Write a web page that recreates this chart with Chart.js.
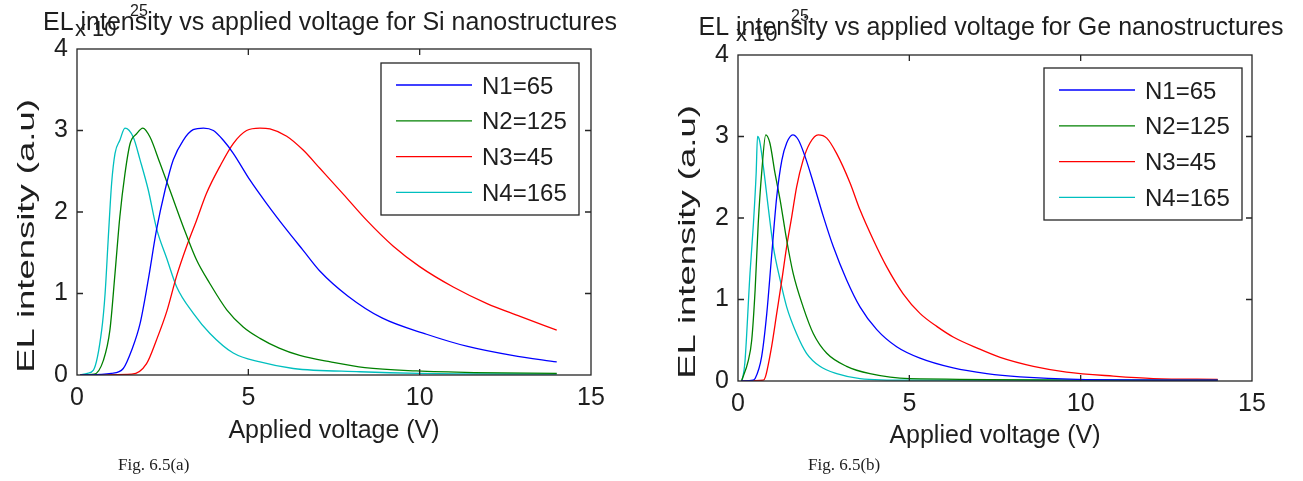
<!DOCTYPE html>
<html>
<head>
<meta charset="utf-8">
<title>EL intensity vs applied voltage</title>
<script src="https://cdn.jsdelivr.net/npm/chart.js@4/dist/chart.umd.min.js"></script>
<style>
    html, body { margin: 0; padding: 0; background: #fff; }
    #page { position: relative; width: 1303px; height: 481px; overflow: hidden; }
    #page canvas { position: absolute; top: 0; }
    #si-chart { left: 0; }
    #ge-chart { left: 651px; }
</style>
</head>
<body>
<div id="page">
    <canvas id="si-chart" width="651" height="481"></canvas>
    <canvas id="ge-chart" width="652" height="481"></canvas>
</div>
<script>
'use strict';

const seriesLabels = ['N1=65', 'N2=125', 'N3=45', 'N4=165'];
const seriesColors = ['#0000ff', '#008000', '#ff0000', '#00bfbf'];
const voltageRange = [0, 15];
const voltageStep = 5;
const intensityRange = [0, 4];
const intensityStep = 1;

// Si nanostructures (intensity in units of 1e25)
const siVoltageN1 = [0.1, 1.0, 1.35, 1.6, 1.84, 2.08, 2.32, 2.57, 2.81, 3.1, 3.39, 3.69, 3.98, 4.27, 4.56, 5.05, 5.54, 6.12, 6.6, 7.1, 7.9, 8.9, 10.2, 11.4, 12.7, 14.0];
const siIntensityN1 = [0, 0.02, 0.08, 0.31, 0.63, 1.17, 1.78, 2.27, 2.64, 2.88, 3.01, 3.03, 3.0, 2.88, 2.72, 2.39, 2.10, 1.78, 1.53, 1.27, 0.97, 0.70, 0.50, 0.35, 0.24, 0.16];
const siVoltageN2 = [0.1, 0.5, 0.77, 0.96, 1.11, 1.25, 1.4, 1.55, 1.74, 1.92, 2.13, 2.42, 2.71, 3.1, 3.49, 3.88, 4.37, 4.85, 5.34, 5.9, 6.5, 7.4, 8.4, 9.9, 11.6, 14.0];
const siIntensityN2 = [0, 0.01, 0.18, 0.55, 1.25, 1.94, 2.47, 2.84, 2.96, 3.03, 2.92, 2.60, 2.27, 1.82, 1.41, 1.12, 0.80, 0.59, 0.45, 0.33, 0.24, 0.16, 0.09, 0.05, 0.03, 0.02];
const siVoltageN3 = [0.1, 1.6, 2.03, 2.32, 2.62, 2.91, 3.2, 3.49, 3.78, 4.17, 4.56, 4.95, 5.34, 5.63, 6.12, 6.6, 7.1, 7.77, 8.45, 9.23, 10.0, 10.98, 11.95, 12.93, 14.0];
const siIntensityN3 = [0, 0.01, 0.14, 0.43, 0.78, 1.22, 1.58, 1.90, 2.23, 2.56, 2.84, 3.0, 3.03, 3.02, 2.93, 2.76, 2.53, 2.22, 1.90, 1.58, 1.33, 1.08, 0.88, 0.72, 0.55];
const siVoltageN4 = [0.1, 0.3, 0.48, 0.72, 0.82, 0.91, 1.01, 1.11, 1.25, 1.4, 1.64, 1.84, 2.08, 2.32, 2.62, 2.91, 3.39, 3.88, 4.56, 5.34, 6.31, 8.26, 10.0, 14.0];
const siIntensityN4 = [0, 0.02, 0.06, 0.55, 1.0, 1.66, 2.35, 2.72, 2.88, 3.03, 2.92, 2.64, 2.27, 1.80, 1.43, 1.08, 0.76, 0.51, 0.27, 0.16, 0.08, 0.04, 0.02, 0.01];

// Ge nanostructures (intensity in units of 1e25)
const geVoltageN1 = [0.1, 0.44, 0.5, 0.69, 0.84, 0.98, 1.13, 1.28, 1.42, 1.6, 1.76, 1.96, 2.2, 2.49, 2.78, 3.17, 3.56, 4.05, 4.63, 5.31, 6.28, 7.26, 8.23, 9.9, 14.0];
const geIntensityN1 = [0, 0.01, 0.03, 0.30, 0.83, 1.53, 2.26, 2.71, 2.92, 3.02, 2.96, 2.75, 2.43, 2.02, 1.65, 1.24, 0.91, 0.63, 0.42, 0.28, 0.16, 0.09, 0.05, 0.02, 0.01];
const geVoltageN2 = [0.1, 0.3, 0.4, 0.5, 0.59, 0.69, 0.81, 0.93, 1.08, 1.23, 1.42, 1.61, 1.9, 2.2, 2.59, 3.17, 3.85, 5.0, 14.0];
const geIntensityN2 = [0, 0.25, 0.5, 1.12, 1.93, 2.55, 3.02, 2.92, 2.55, 2.22, 1.73, 1.32, 0.91, 0.58, 0.34, 0.18, 0.09, 0.03, 0.01];
const geVoltageN3 = [0.1, 0.74, 0.8, 0.98, 1.13, 1.28, 1.42, 1.57, 1.71, 1.9, 2.1, 2.34, 2.59, 2.88, 3.27, 3.56, 3.95, 4.34, 4.82, 5.31, 5.8, 6.28, 7.0, 7.65, 8.62, 9.59, 10.95, 12.12, 14.0];
const geIntensityN3 = [0, 0.01, 0.05, 0.42, 0.83, 1.24, 1.65, 2.02, 2.38, 2.71, 2.92, 3.02, 2.98, 2.79, 2.43, 2.10, 1.73, 1.40, 1.07, 0.83, 0.67, 0.54, 0.40, 0.29, 0.18, 0.11, 0.06, 0.03, 0.02];
const geVoltageN4 = [0.12, 0.2, 0.35, 0.45, 0.53, 0.57, 0.63, 0.74, 0.88, 1.03, 1.23, 1.42, 1.71, 2.0, 2.39, 2.88, 3.56, 5.0, 14.0];
const geIntensityN4 = [0, 0.22, 1.32, 1.93, 2.55, 3.0, 2.95, 2.63, 2.14, 1.65, 1.24, 0.91, 0.58, 0.34, 0.18, 0.09, 0.03, 0.01, 0.01];

const sansFont = '"Liberation Sans", Arial, sans-serif';
const serifFont = '"Liberation Serif", "DejaVu Serif", serif';
const textColor = '#1e1e1e';

Chart.defaults.font.family = sansFont;
Chart.defaults.color = textColor;

window.toPoints = function (voltages, intensities) {
    return voltages.map(function (v, i) {
        return {x: v, y: intensities[i]};
    });
};

// MATLAB-style box: frame, inward ticks on all sides, boxed legend,
// title with the exponent label, rotated y title and figure caption
const matlabFrame = {
    id: 'matlabFrame',
    afterDraw: function (chart, args, opts) {
        const ctx = chart.ctx;
        const area = chart.chartArea;
        const xScale = chart.scales.x;
        const yScale = chart.scales.y;
        const tick = 6;

        ctx.save();
        ctx.strokeStyle = '#262626';
        ctx.lineWidth = 1.3;
        ctx.strokeRect(area.left, area.top, area.right - area.left, area.bottom - area.top);
        ctx.beginPath();
        xScale.ticks.forEach(function (t) {
            if (t.value <= xScale.min || t.value >= xScale.max) return;
            const px = xScale.getPixelForValue(t.value);
            ctx.moveTo(px, area.bottom);
            ctx.lineTo(px, area.bottom - tick);
            ctx.moveTo(px, area.top);
            ctx.lineTo(px, area.top + tick);
        });
        yScale.ticks.forEach(function (t) {
            if (t.value <= yScale.min || t.value >= yScale.max) return;
            const py = yScale.getPixelForValue(t.value);
            ctx.moveTo(area.left, py);
            ctx.lineTo(area.left + tick, py);
            ctx.moveTo(area.right, py);
            ctx.lineTo(area.right - tick, py);
        });
        ctx.stroke();

        // legend box in the upper right corner
        const boxW = 198;
        const boxH = 152;
        const boxX = area.right - opts.legendRight - boxW;
        const boxY = area.top + opts.legendTop;
        ctx.fillStyle = '#fff';
        ctx.fillRect(boxX, boxY, boxW, boxH);
        ctx.strokeRect(boxX, boxY, boxW, boxH);
        ctx.font = '24px ' + sansFont;
        ctx.textAlign = 'left';
        ctx.textBaseline = 'middle';
        chart.data.datasets.forEach(function (ds, i) {
            const rowY = boxY + 22 + i * 35.8;
            ctx.strokeStyle = ds.borderColor;
            ctx.lineWidth = ds.borderWidth;
            ctx.beginPath();
            ctx.moveTo(boxX + 15, rowY);
            ctx.lineTo(boxX + 91, rowY);
            ctx.stroke();
            ctx.fillStyle = textColor;
            ctx.fillText(ds.label, boxX + 101, rowY + 2);
        });

        // title, then the exponent drawn over it
        ctx.fillStyle = textColor;
        ctx.font = '25px ' + sansFont;
        ctx.textAlign = 'center';
        ctx.textBaseline = 'alphabetic';
        ctx.fillText(opts.title, (area.left + area.right) / 2 - 4, opts.titleBaseline);

        ctx.textAlign = 'left';
        ctx.font = '22px ' + sansFont;
        ctx.fillText('x 10', area.left - 2, opts.titleBaseline + 6);
        ctx.font = '16px ' + sansFont;
        ctx.fillText('25', area.left + 53, opts.titleBaseline - 14);

        // y title, stretched along its length
        ctx.save();
        ctx.translate(opts.yTitleX, opts.yTitleY);
        ctx.rotate(-Math.PI / 2);
        ctx.scale(1.52, 1);
        ctx.font = '24px ' + sansFont;
        ctx.textAlign = 'center';
        ctx.fillText('EL intensity (a.u)', 0, 0);
        ctx.restore();

        ctx.font = '17px ' + serifFont;
        ctx.textAlign = 'left';
        ctx.fillText(opts.caption, opts.captionX, 470);
        ctx.restore();
    }
};

window.buildElChart = function (canvasId, series, frame) {
    const datasets = series.map(function (points, i) {
        return {
            label: seriesLabels[i],
            data: points,
            borderColor: seriesColors[i],
            backgroundColor: seriesColors[i],
            borderWidth: 1.3,
            pointRadius: 0,
            cubicInterpolationMode: 'monotone',
            fill: false,
        };
    });

    return new Chart(document.getElementById(canvasId), {
        type: 'line',
        data: {datasets: datasets},
        options: {
            responsive: false,
            animation: false,
            layout: {
                padding: {left: 0, top: frame.top, right: frame.right, bottom: 0},
            },
            scales: {
                x: {
                    type: 'linear',
                    min: voltageRange[0],
                    max: voltageRange[1],
                    ticks: {stepSize: voltageStep, padding: 8, font: {size: 25}},
                    grid: {display: false, drawTicks: false},
                    border: {display: false},
                    title: {
                        display: true,
                        text: 'Applied voltage (V)',
                        font: {size: 25},
                        padding: {top: 0, bottom: frame.xTitlePad},
                    },
                    afterFit: function (scale) {
                        scale.height = frame.xAxisHeight;
                    },
                },
                y: {
                    type: 'linear',
                    min: intensityRange[0],
                    max: intensityRange[1],
                    ticks: {stepSize: intensityStep, padding: 9, font: {size: 25}},
                    grid: {display: false, drawTicks: false},
                    border: {display: false},
                    afterFit: function (scale) {
                        scale.width = frame.yAxisWidth;
                    },
                },
            },
            plugins: {
                legend: {display: false},
                tooltip: {enabled: false},
                matlabFrame: frame,
            },
        },
        plugins: [matlabFrame],
    });
};

window.drawElCharts = function () {
    buildElChart('si-chart', [
        toPoints(siVoltageN1, siIntensityN1),
        toPoints(siVoltageN2, siIntensityN2),
        toPoints(siVoltageN3, siIntensityN3),
        toPoints(siVoltageN4, siIntensityN4),
    ], {
        top: 49, right: 60, yAxisWidth: 77, xAxisHeight: 106, xTitlePad: 35,
        legendRight: 12, legendTop: 14,
        title: 'EL intensity vs applied voltage for Si nanostructures', titleBaseline: 30,
        yTitleX: 34, yTitleY: 236,
        caption: 'Fig. 6.5(a)', captionX: 118,
    });

    buildElChart('ge-chart', [
        toPoints(geVoltageN1, geIntensityN1),
        toPoints(geVoltageN2, geIntensityN2),
        toPoints(geVoltageN3, geIntensityN3),
        toPoints(geVoltageN4, geIntensityN4),
    ], {
        top: 55, right: 51, yAxisWidth: 87, xAxisHeight: 100, xTitlePad: 30,
        legendRight: 10, legendTop: 13,
        title: 'EL intensity vs applied voltage for Ge nanostructures', titleBaseline: 35,
        yTitleX: 44, yTitleY: 242,
        caption: 'Fig. 6.5(b)', captionX: 157,
    });
};

Promise.all([
    document.fonts.load('25px "Liberation Sans"'),
    document.fonts.load('17px "Liberation Serif"'),
]).then(drawElCharts, drawElCharts);
</script>
</body>
</html>
